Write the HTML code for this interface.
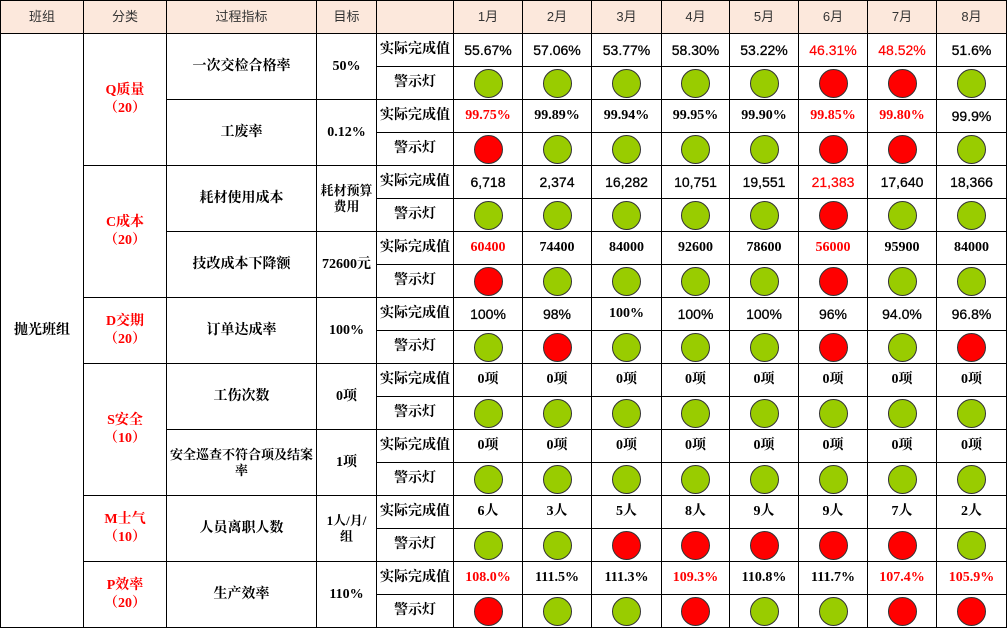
<!DOCTYPE html>
<html><head><meta charset="utf-8"><style>
body{margin:0;background:#fff;width:1007px;height:629px;overflow:hidden;}
table{border-collapse:collapse;table-layout:fixed;position:absolute;left:0;top:0;width:1007px;}
td{border:1.5px solid #000;height:32px;padding:0;text-align:center;vertical-align:middle;font-size:14px;font-weight:bold;color:#000;font-family:"Liberation Serif","Noto Serif CJK SC",serif;line-height:16px;white-space:nowrap;overflow:hidden;}
td.w{white-space:normal;font-size:13px;}
tr.h td{background:#fce8dc;font-weight:normal;font-family:"Liberation Sans","Noto Sans CJK SC",sans-serif;font-size:13px;color:#333;}
td.c{color:#f00;font-size:14px;font-weight:bold;line-height:18px;}
td.v{font-family:"Liberation Sans","Noto Sans CJK SC",sans-serif;font-size:14px;font-weight:normal;-webkit-text-stroke:0.3px #000;}
td.v.r{-webkit-text-stroke:0.2px #f00;}
.r{color:#f00;}
.g,.rd{display:block;margin:0 auto;width:27px;height:27px;border-radius:50%;border:1px solid #333;}
.g{background:#99cc00;}.rd{background:#ff0000;}
</style></head><body>
<table>
<colgroup><col style="width:83px"><col style="width:83px"><col style="width:150px"><col style="width:60px"><col style="width:77px"><col style="width:69px"><col style="width:69px"><col style="width:70px"><col style="width:68px"><col style="width:69px"><col style="width:69px"><col style="width:69px"><col style="width:70px"></colgroup>
<tr class="h"><td>班组</td><td>分类</td><td>过程指标</td><td>目标</td><td></td><td>1月</td><td>2月</td><td>3月</td><td>4月</td><td>5月</td><td>6月</td><td>7月</td><td>8月</td></tr>

<tr><td rowspan="18">抛光班组</td><td rowspan="4" class="c">Q质量<br>（20）</td><td rowspan="2">一次交检合格率</td><td rowspan="2">50%</td><td>实际完成值</td><td class="v">55.67%</td><td class="v">57.06%</td><td class="v">53.77%</td><td class="v">58.30%</td><td class="v">53.22%</td><td class="v r">46.31%</td><td class="v r">48.52%</td><td class="v">51.6%</td></tr>
<tr><td>警示灯</td><td><i class="g"></i></td><td><i class="g"></i></td><td><i class="g"></i></td><td><i class="g"></i></td><td><i class="g"></i></td><td><i class="rd"></i></td><td><i class="rd"></i></td><td><i class="g"></i></td></tr>
<tr><td rowspan="2">工废率</td><td rowspan="2">0.12%</td><td>实际完成值</td><td class="r">99.75%</td><td>99.89%</td><td>99.94%</td><td>99.95%</td><td>99.90%</td><td class="r">99.85%</td><td class="r">99.80%</td><td class="v">99.9%</td></tr>
<tr><td>警示灯</td><td><i class="rd"></i></td><td><i class="g"></i></td><td><i class="g"></i></td><td><i class="g"></i></td><td><i class="g"></i></td><td><i class="rd"></i></td><td><i class="rd"></i></td><td><i class="g"></i></td></tr>

<tr><td rowspan="4" class="c">C成本<br>（20）</td><td rowspan="2">耗材使用成本</td><td rowspan="2" class="w">耗材预算<br>费用</td><td>实际完成值</td><td class="v">6,718</td><td class="v">2,374</td><td class="v">16,282</td><td class="v">10,751</td><td class="v">19,551</td><td class="v r">21,383</td><td class="v">17,640</td><td class="v">18,366</td></tr>
<tr><td>警示灯</td><td><i class="g"></i></td><td><i class="g"></i></td><td><i class="g"></i></td><td><i class="g"></i></td><td><i class="g"></i></td><td><i class="rd"></i></td><td><i class="g"></i></td><td><i class="g"></i></td></tr>
<tr><td rowspan="2">技改成本下降额</td><td rowspan="2">72600元</td><td>实际完成值</td><td class="r">60400</td><td>74400</td><td>84000</td><td>92600</td><td>78600</td><td class="r">56000</td><td>95900</td><td>84000</td></tr>
<tr><td>警示灯</td><td><i class="rd"></i></td><td><i class="g"></i></td><td><i class="g"></i></td><td><i class="g"></i></td><td><i class="g"></i></td><td><i class="rd"></i></td><td><i class="g"></i></td><td><i class="g"></i></td></tr>

<tr><td rowspan="2" class="c">D交期<br>（20）</td><td rowspan="2">订单达成率</td><td rowspan="2">100%</td><td>实际完成值</td><td class="v">100%</td><td class="v">98%</td><td>100%</td><td class="v">100%</td><td class="v">100%</td><td class="v">96%</td><td class="v">94.0%</td><td class="v">96.8%</td></tr>
<tr><td>警示灯</td><td><i class="g"></i></td><td><i class="rd"></i></td><td><i class="g"></i></td><td><i class="g"></i></td><td><i class="g"></i></td><td><i class="rd"></i></td><td><i class="g"></i></td><td><i class="rd"></i></td></tr>

<tr><td rowspan="4" class="c">S安全<br>（10）</td><td rowspan="2">工伤次数</td><td rowspan="2">0项</td><td>实际完成值</td><td>0项</td><td>0项</td><td>0项</td><td>0项</td><td>0项</td><td>0项</td><td>0项</td><td>0项</td></tr>
<tr><td>警示灯</td><td><i class="g"></i></td><td><i class="g"></i></td><td><i class="g"></i></td><td><i class="g"></i></td><td><i class="g"></i></td><td><i class="g"></i></td><td><i class="g"></i></td><td><i class="g"></i></td></tr>
<tr><td rowspan="2" class="w">安全巡查不符合项及结案<br>率</td><td rowspan="2">1项</td><td>实际完成值</td><td>0项</td><td>0项</td><td>0项</td><td>0项</td><td>0项</td><td>0项</td><td>0项</td><td>0项</td></tr>
<tr><td>警示灯</td><td><i class="g"></i></td><td><i class="g"></i></td><td><i class="g"></i></td><td><i class="g"></i></td><td><i class="g"></i></td><td><i class="g"></i></td><td><i class="g"></i></td><td><i class="g"></i></td></tr>

<tr><td rowspan="2" class="c">M士气<br>（10）</td><td rowspan="2">人员离职人数</td><td rowspan="2" class="w">1人/月/<br>组</td><td>实际完成值</td><td>6人</td><td>3人</td><td>5人</td><td>8人</td><td>9人</td><td>9人</td><td>7人</td><td>2人</td></tr>
<tr><td>警示灯</td><td><i class="g"></i></td><td><i class="g"></i></td><td><i class="rd"></i></td><td><i class="rd"></i></td><td><i class="rd"></i></td><td><i class="rd"></i></td><td><i class="rd"></i></td><td><i class="g"></i></td></tr>

<tr><td rowspan="2" class="c">P效率<br>（20）</td><td rowspan="2">生产效率</td><td rowspan="2">110%</td><td>实际完成值</td><td class="r">108.0%</td><td>111.5%</td><td>111.3%</td><td class="r">109.3%</td><td>110.8%</td><td>111.7%</td><td class="r">107.4%</td><td class="r">105.9%</td></tr>
<tr><td>警示灯</td><td><i class="rd"></i></td><td><i class="g"></i></td><td><i class="g"></i></td><td><i class="rd"></i></td><td><i class="g"></i></td><td><i class="g"></i></td><td><i class="rd"></i></td><td><i class="rd"></i></td></tr>
</table>
</body></html>
